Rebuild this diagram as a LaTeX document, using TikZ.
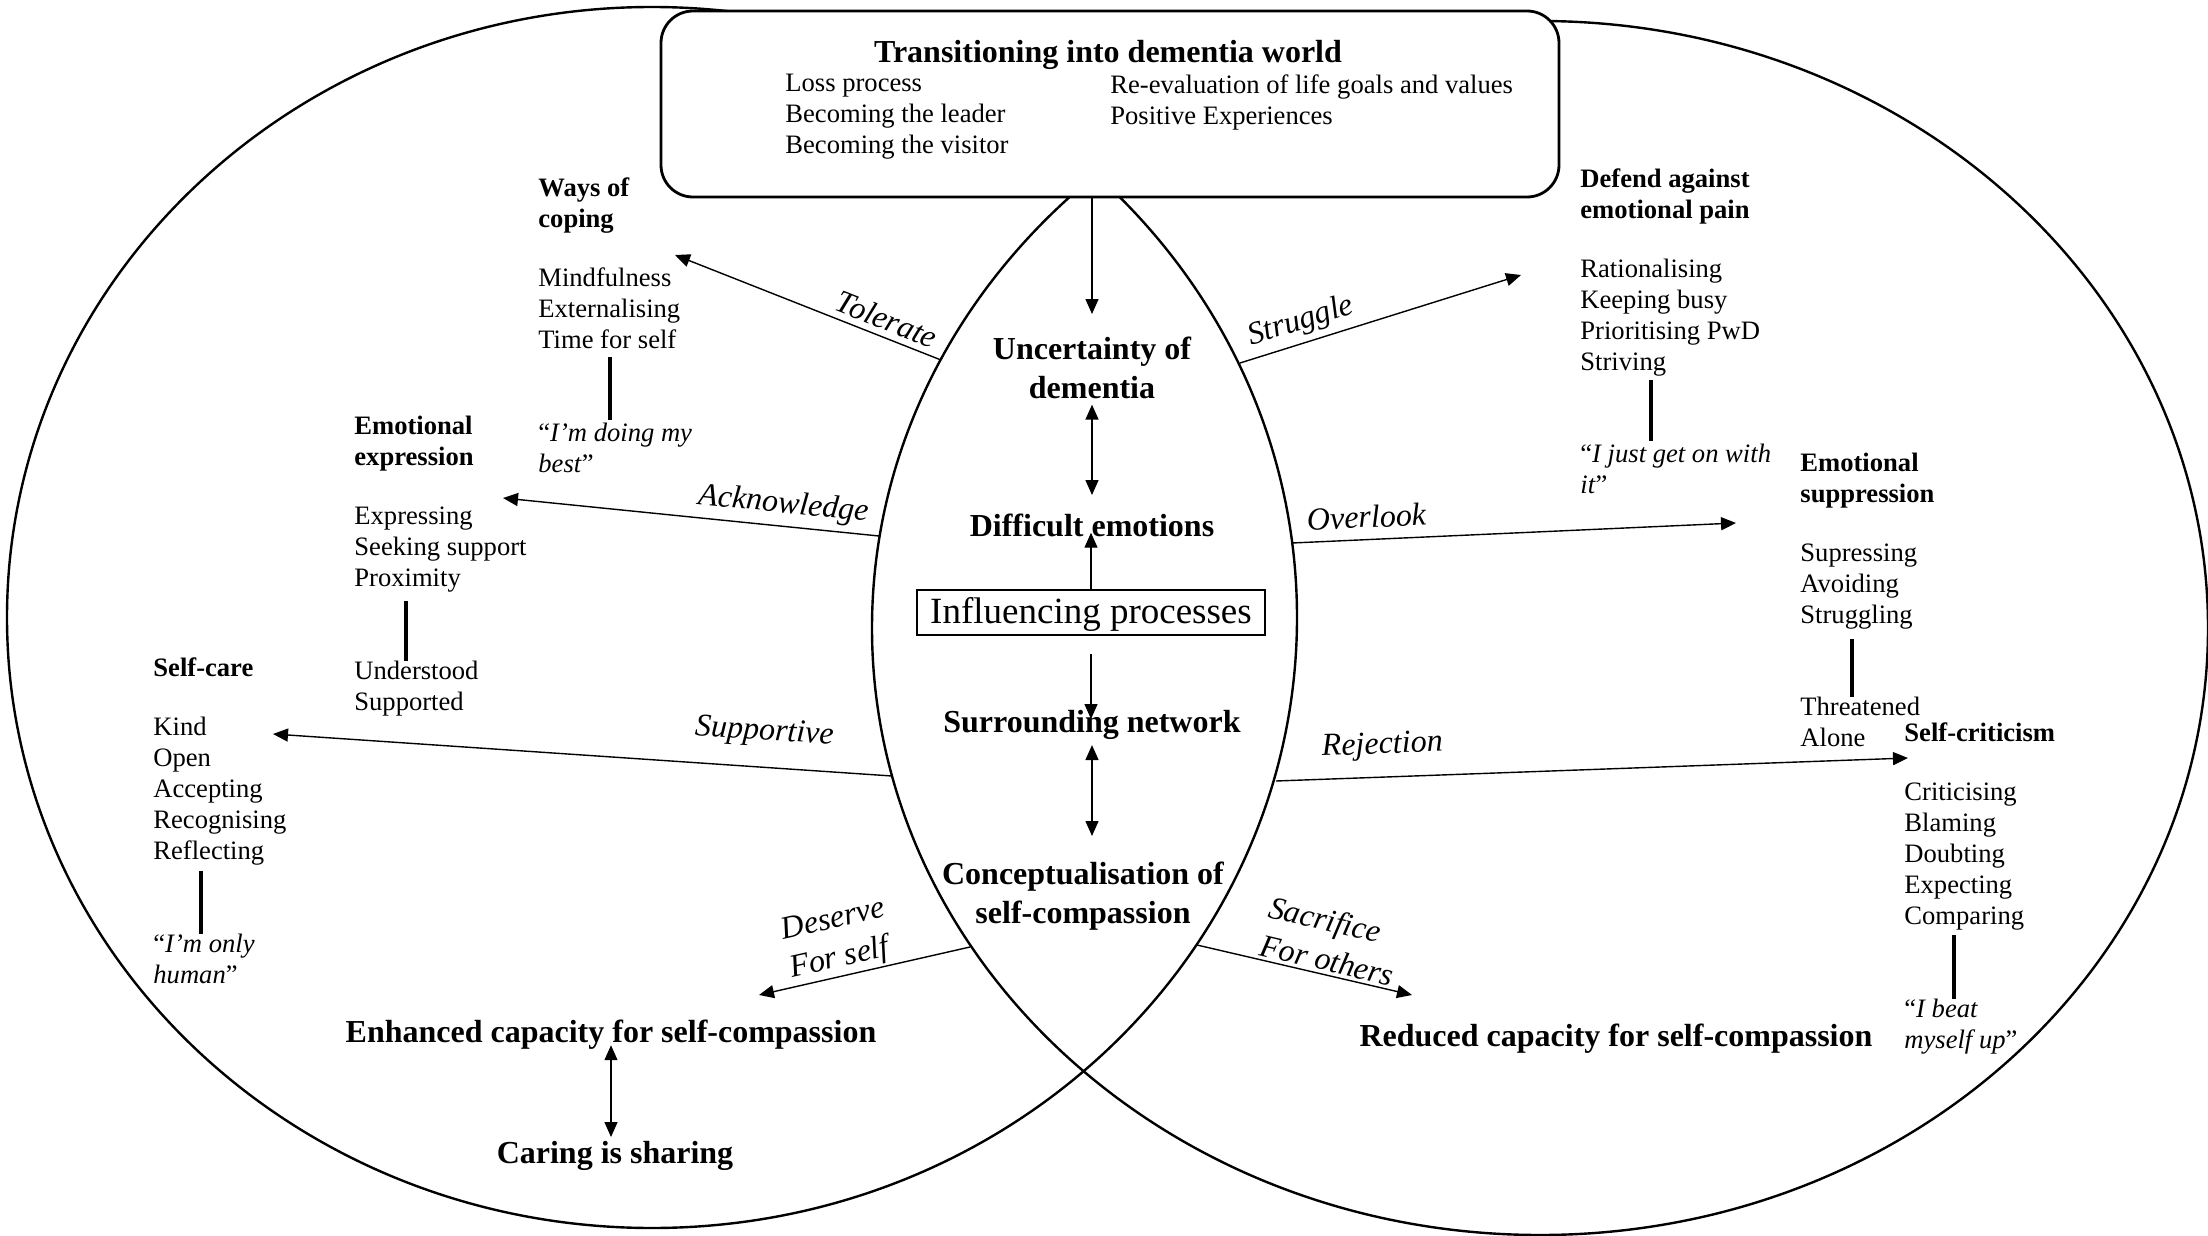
\documentclass[tikz,border=0pt]{standalone}
\usepackage{fontspec}
\setmainfont{Liberation Serif}
\usetikzlibrary{arrows.meta}

\newcommand*{\mainsize}{\fontsize{16}{19.5}\selectfont}
\newcommand*{\sidesize}{\fontsize{13.3}{15.5}\selectfont}
\newcommand*{\boxsize}{\fontsize{18.5}{22}\selectfont}

\begin{document}
\begin{tikzpicture}
[
	x=0.5pt,
	y=-0.5pt,
	core/.style={font=\mainsize\bfseries, align=center, inner sep=0pt, anchor=north},
	block/.style={font=\sidesize, align=left, anchor=north west, inner sep=0pt},
	flow/.style={-{Triangle[length=7.5pt,width=6.5pt]}, line width=0.7pt},
	twoway/.style={{Triangle[length=7.5pt,width=6.5pt]}-{Triangle[length=7.5pt,width=6.5pt]}, line width=0.7pt},
	stem/.style={line width=2.2pt},
	verb/.style={font=\mainsize\itshape, sloped, above, inner sep=3pt, align=left}
]

	\useasboundingbox (0,0) rectangle (2208,1236);
	\clip (0,0) rectangle (2208,1236);

	% two worlds
	\draw[line width=1.2pt] (652,617.5) ellipse [x radius=645, y radius=610.5];
	\draw[line width=1.2pt] (1540,628) ellipse [x radius=668, y radius=607];

	% top box
	\node[draw, fill=white, line width=1.4pt, rounded corners=16pt, minimum width=449pt, minimum height=93pt] (trans) at (1110,104) {};
	\node[core] (transtitle) at (1108,40) {Transitioning into dementia world};
	\node[block] (translist) at (785,74) {Loss process\\Becoming the leader\\Becoming the visitor};
	\node[block] (transplus) at (1110,74) {Re-evaluation of life goals and values\\Positive Experiences};

	% middle column
	\node[core] (uncert) at (1092,337) {Uncertainty of\\dementia};
	\node[core] (diff) at (1092,514) {Difficult emotions};
	\node[draw, line width=1.4pt, font=\boxsize, minimum width=174pt, minimum height=22.5pt, inner sep=1pt, text height=15.5pt, text depth=5pt] (infl) at (1091,612.5) {Influencing processes};
	\node[core] (surr) at (1092,710) {Surrounding network};
	\node[core] (concept) at (1083,862) {Conceptualisation of\\self-compassion};

	\draw[flow, shorten >=11.5pt] (trans.south -| uncert.north) -- (uncert.north);
	\draw[twoway, shorten <=2.5pt, shorten >=9.5pt] (uncert.south) -- (uncert.south |- diff.north);
	\draw[flow, shorten >=-2.5pt] (infl.north) -- (infl.north |- diff.south);
	\draw[flow, shorten <=9pt, shorten >=-4.5pt] (infl.south) -- (infl.south |- surr.north);
	\draw[twoway, shorten <=2.5pt, shorten >=13pt] (surr.south) -- (surr.south |- concept.north);

	% outcomes
	\node[core] (enh) at (611,1020) {Enhanced capacity for self-compassion};
	\node[core] (caring) at (615,1141) {Caring is sharing};
	\node[core] (reduced) at (1616,1024) {Reduced capacity for self-compassion};
	\draw[twoway, shorten <=-2.5pt, shorten >=2pt] (enh.south) -- (enh.south |- caring.north);

	% left world
	\node[block] (coping) at (538,177) {\textbf{Ways of}\\\textbf{coping}\\[14pt]Mindfulness\\Externalising\\Time for self};
	\node[block] (copingq) at (538,423) {“\textit{I’m doing my}\\\textit{best}”};
	\draw[stem, shorten <=4pt, shorten >=1.5pt] ([xshift=36pt]coping.south west) -- ([xshift=36pt]copingq.north west);

	\node[block] (express) at (354,416) {\textbf{Emotional}\\\textbf{expression}\\[14pt]Expressing\\Seeking support\\Proximity};
	\node[block] (expressq) at (354,661) {Understood\\Supported};
	\draw[stem, shorten <=4pt] ([xshift=26pt]express.south west) -- ([xshift=26pt]expressq.north west);

	\node[block] (selfcare) at (153,657) {\textbf{Self-care}\\[14pt]Kind\\Open\\Accepting\\Recognising\\Reflecting};
	\node[block] (selfcareq) at (153,934) {“\textit{I’m only}\\\textit{human}”};
	\draw[stem, shorten <=3pt] ([xshift=24pt]selfcare.south west) -- ([xshift=24pt]selfcareq.north west);

	% right world
	\node[block] (defend) at (1580,168) {\textbf{Defend against}\\\textbf{emotional pain}\\[14pt]Rationalising\\Keeping busy\\Prioritising PwD\\Striving};
	\node[block] (defendq) at (1580,444) {“\textit{I just get on with}\\\textit{it}”};
	\draw[stem, shorten <=2pt, shorten >=1.5pt] ([xshift=35.5pt]defend.south west) -- ([xshift=35.5pt]defendq.north west);

	\node[block] (suppress) at (1800,453) {\textbf{Emotional}\\\textbf{suppression}\\[14pt]Supressing\\Avoiding\\Struggling};
	\node[block] (suppressq) at (1800,697) {Threatened\\Alone};
	\draw[stem, shorten <=4.5pt] ([xshift=26pt]suppress.south west) -- ([xshift=26pt]suppressq.north west);

	\node[block] (critic) at (1904,722) {\textbf{Self-criticism}\\[14pt]Criticising\\Blaming\\Doubting\\Expecting\\Comparing};
	\node[block] (criticq) at (1904,999) {“\textit{I beat}\\\textit{myself up}”};
	\draw[stem, shorten <=2.5pt] ([xshift=25pt]critic.south west) -- ([xshift=25pt]criticq.north west);

	% processes leaving the middle
	\coordinate (tolS) at (941,360);
	\coordinate (tolE) at (675,255);
	\coordinate (ackS) at (879,536);
	\coordinate (ackE) at (503,498);
	\coordinate (supS) at (892,776);
	\coordinate (supE) at (273,734);
	\coordinate (desS) at (970,947);
	\coordinate (desE) at (759,995);
	\coordinate (strS) at (1240,363);
	\coordinate (strE) at (1521,275);
	\coordinate (ovlS) at (1292,543);
	\coordinate (ovlE) at (1736,523);
	\coordinate (rejS) at (1276,781);
	\coordinate (rejE) at (1908,758);
	\coordinate (sacS) at (1197,945);
	\coordinate (sacE) at (1412,995);

	\draw[flow] (tolS) -- node[verb, pos=0.23] {Tolerate} (tolE);
	\draw[flow] (ackS) -- node[verb, pos=0.26] {Acknowledge} (ackE);
	\draw[flow] (supS) -- node[verb, pos=0.21, above=7pt] {Supportive} (supE);
	\draw[flow] (desS) -- node[verb, pos=0.59, inner sep=1pt] {Deserve\\For self} (desE);
	\draw[flow] (strS) -- node[verb, pos=0.24] {Struggle} (strE);
	\draw[flow] (ovlS) -- node[verb, pos=0.17, above=2.5pt] {Overlook} (ovlE);
	\draw[flow] (rejS) -- node[verb, pos=0.17, above=5pt] {Rejection} (rejE);
	\draw[flow] (sacS) -- node[verb, pos=0.59, inner sep=1.5pt] {Sacrifice\\For others} (sacE);

\end{tikzpicture}
\end{document}
